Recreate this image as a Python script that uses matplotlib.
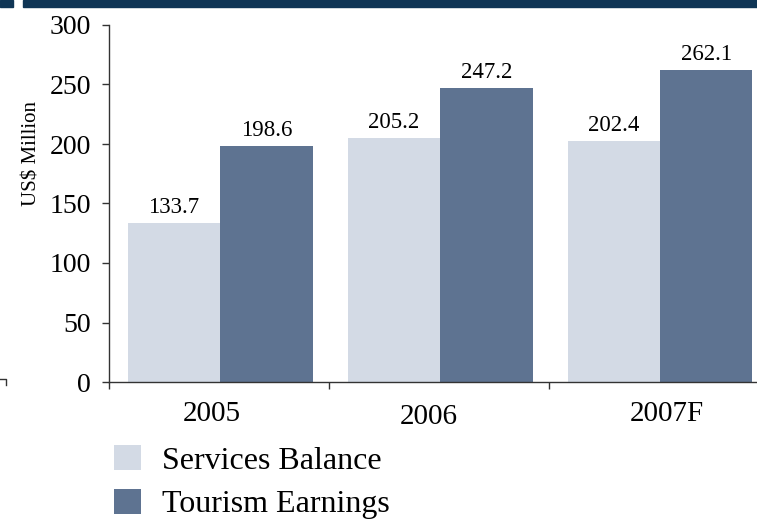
import matplotlib
matplotlib.use("Agg")
import matplotlib.pyplot as plt
from matplotlib.patches import Rectangle
from matplotlib.lines import Line2D
from matplotlib.transforms import ScaledTranslation
import numpy as np

categories = ["2005", "2006", "2007F"]
services_balance = [133.7, 205.2, 202.4]
tourism_earnings = [198.6, 247.2, 262.1]
series_names = ["Services Balance", "Tourism Earnings"]
yticks = [0, 50, 100, 150, 200, 250, 300]

C_SERV = "#D3DAE5"
C_TOUR = "#5E7391"
NAVY = "#0F3555"

plt.rcParams["font.family"] = ["Liberation Serif", "DejaVu Serif"]

fig = plt.figure(figsize=(7.57, 5.19), dpi=100)
W, H = 757, 519
ax = fig.add_axes([109 / W, 1 - 382 / H, (769 - 109) / W, (382 - 25) / H])

x = np.arange(len(categories))
w = 0.42
b1 = ax.bar(x - 0.205, services_balance, w, color=C_SERV, label=series_names[0])
b2 = ax.bar(x + 0.215, tourism_earnings, w, color=C_TOUR, label=series_names[1])

for bars, vals in ((b1, services_balance), (b2, tourism_earnings)):
    for r, v in zip(bars, vals):
        ax.annotate(f"{v:.1f}", (r.get_x() + r.get_width() / 2, v),
                    xytext=(0, 3.5), textcoords="offset points",
                    ha="center", va="bottom", fontsize=16.5, color="black")

ax.set_xlim(-0.5, 2.5)
ax.set_ylim(0, 300)
ax.set_yticks(yticks)
ax.tick_params(axis="y", direction="out", length=5, width=1, pad=8,
               labelsize=20, color="#333333")
ax.set_xticks(x)
ax.set_xticklabels(categories)
ax.tick_params(axis="x", which="major", length=0, pad=14, labelsize=21)
ax.set_xticks([-0.5, 0.5, 1.5], minor=True)
ax.tick_params(axis="x", which="minor", direction="out", length=5, width=1,
               color="#333333")
for lbl, (dx, dy) in zip(ax.get_xticklabels(), [(-7, 0), (-10, -3), (8, 0)]):
    lbl.set_transform(lbl.get_transform() +
                      ScaledTranslation(dx / 100, dy / 100, fig.dpi_scale_trans))

for s in ["top", "right"]:
    ax.spines[s].set_visible(False)
for s in ["left", "bottom"]:
    ax.spines[s].set_color("#333333")
    ax.spines[s].set_linewidth(1)

ax.set_ylabel("US$ Million", fontsize=15)
ax.yaxis.set_label_coords(-(109 - 41) / 660, (382 - 153) / 357)

fig.legend(handles=[b1, b2], labels=series_names, loc="upper left",
           bbox_to_anchor=(114 / W, 1 - 445 / H), frameon=False,
           fontsize=23, handlelength=0.85, handleheight=0.85,
           handletextpad=0.65, labelspacing=0.4, borderpad=0,
           borderaxespad=0)

# decorative top band
fig.patches.append(Rectangle((0, 1 - 7 / H), 13 / W, 7 / H, transform=fig.transFigure,
                             color=NAVY, zorder=0))
fig.patches.append(Rectangle((23 / W, 1 - 7 / H), 1, 7 / H, transform=fig.transFigure,
                             color=NAVY, zorder=0))
fig.lines.append(Line2D([0, 6 / W, 6 / W], [1 - 379 / H, 1 - 379 / H, 1 - 385 / H],
                        transform=fig.transFigure, color="#333333", lw=1))

fig.savefig("out.png", dpi=100)
